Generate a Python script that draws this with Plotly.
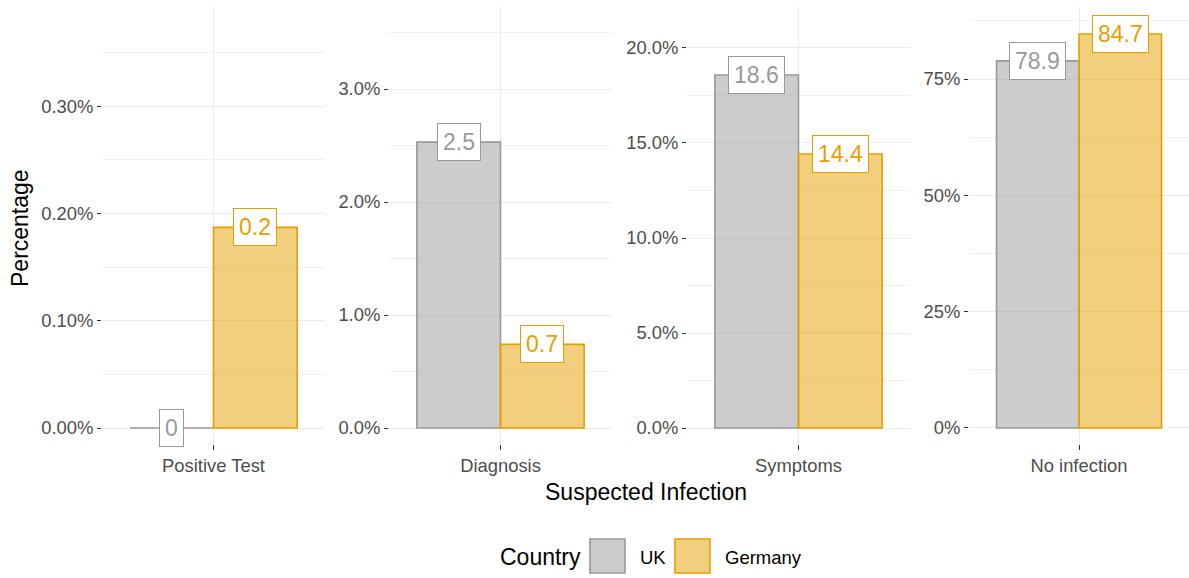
import plotly.graph_objects as go

# ── data (percent of respondents) ─────────────────────────────
categories = ["Positive Test", "Diagnosis", "Symptoms", "No infection"]
countries = ["UK", "Germany"]
uk_pct = [0.0, 2.53, 18.58, 78.9]
germany_pct = [0.187, 0.74, 14.42, 84.66]

# per-facet y scale (free scales, like facet_wrap(scales = "free_y"))
y_ranges = [[-0.0149, 0.3933], [-0.1416, 3.735], [-0.842, 22.21], [-3.44, 90.69]]
y_dticks = [0.1, 1, 5, 25]
y_formats = [".2f", ".1f", ".1f", ".0f"]

LINE = {"UK": "#999999", "Germany": "#E69F00"}
FILL = {"UK": "rgba(153,153,153,0.5)", "Germany": "rgba(230,159,0,0.5)"}
FONT = "Liberation Sans, Arial, sans-serif"

W, H = 1189, 578
L, R, T, B = 102, 0, 6, 134
PW, PH = W - L - R, H - T - B

def px_x(p):  # pixel -> paper x
    return (p - L) / PW

def px_y(p):  # pixel -> paper y
    return (H - B - p) / PH

panel_px = [(102, 325), (389, 612), (687, 910), (969, 1189)]
values = {"UK": uk_pct, "Germany": germany_pct}

fig = go.Figure()
annotations = []

for i, cat in enumerate(categories):
    n = "" if i == 0 else str(i + 1)
    for c in countries:
        fig.add_trace(go.Bar(
            x=[cat], y=[values[c][i]],
            name=c, showlegend=False,
            marker=dict(color=FILL[c], line=dict(color=LINE[c], width=1.6)),
            xaxis="x" + n, yaxis="y" + n,
        ))
    # value labels (geom_label style)
    for j, c in enumerate(countries):
        v = values[c][i]
        annotations.append(dict(
            xref="x" + n, yref="y" + n,
            x=-0.225 if j == 0 else 0.225, y=v,
            text=f"{round(v, 1):g}", showarrow=False,
            font=dict(family=FONT, size=23, color=LINE[c]),
            bgcolor="white", bordercolor=LINE[c], borderwidth=1, borderpad=5,
            xanchor="center", yanchor="middle",
        ))
    x0, x1 = panel_px[i]
    fig.layout["xaxis" + n] = dict(
        domain=[px_x(x0), px_x(x1)], anchor="y" + n,
        range=[-0.6, 0.6], type="category",
        showgrid=True, gridcolor="#EBEBEB", gridwidth=1.1,
        ticks="outside", ticklen=5, tickcolor="#333333", tickwidth=1,
        tickfont=dict(family=FONT, size=18.4, color="#4D4D4D"),
        showline=False, zeroline=False, fixedrange=True,
    )
    fig.layout["yaxis" + n] = dict(
        domain=[0, 1], anchor="x" + n,
        range=y_ranges[i], dtick=y_dticks[i], tick0=0,
        tickformat=y_formats[i], ticksuffix="%",
        showgrid=True, gridcolor="#EBEBEB", gridwidth=1.1,
        minor=dict(dtick=y_dticks[i] / 2, tick0=0, showgrid=True,
                   gridcolor="#F1F1F1", gridwidth=1, ticks=""),
        ticks="outside", ticklen=4, tickcolor="#333333", tickwidth=1,
        tickfont=dict(family=FONT, size=18.4, color="#4D4D4D"),
        showline=False, zeroline=False, fixedrange=True,
    )

# axis titles
annotations.append(dict(
    xref="paper", yref="paper", x=px_x(646), y=px_y(492),
    text="Suspected Infection", showarrow=False,
    font=dict(family=FONT, size=23, color="black"),
    xanchor="center", yanchor="middle",
))
annotations.append(dict(
    xref="paper", yref="paper", x=px_x(20), y=px_y(228),
    text="Percentage", showarrow=False, textangle=-90,
    font=dict(family=FONT, size=23, color="black"),
    xanchor="center", yanchor="middle",
))

# legend (large ggplot-style keys)
annotations.append(dict(
    xref="paper", yref="paper", x=px_x(498), y=px_y(557),
    text="Country", showarrow=False,
    font=dict(family=FONT, size=23, color="black"),
    xanchor="left", yanchor="middle",
))
shapes = []
key_left = {"UK": 590, "Germany": 675}
for c in countries:
    kx = key_left[c]
    shapes.append(dict(
        type="rect", xref="paper", yref="paper",
        x0=px_x(kx), x1=px_x(kx + 35), y0=px_y(573), y1=px_y(539),
        fillcolor=FILL[c], line=dict(color=LINE[c], width=1.6),
    ))
    annotations.append(dict(
        xref="paper", yref="paper", x=px_x(kx + 48), y=px_y(557),
        text=c, showarrow=False,
        font=dict(family=FONT, size=18.5, color="black"),
        xanchor="left", yanchor="middle",
    ))

fig.update_layout(
    width=W, height=H,
    margin=dict(l=L, r=R, t=T, b=B),
    paper_bgcolor="white", plot_bgcolor="white",
    barmode="group", bargap=0.1, bargroupgap=0,
    showlegend=False,
    annotations=annotations, shapes=shapes,
)

# drop the default 8px page margin so the figure sits at the window origin
fig.write_html(
    "out.html",
    config={"displayModeBar": False},
    post_script="document.body.style.margin='0';",
)
